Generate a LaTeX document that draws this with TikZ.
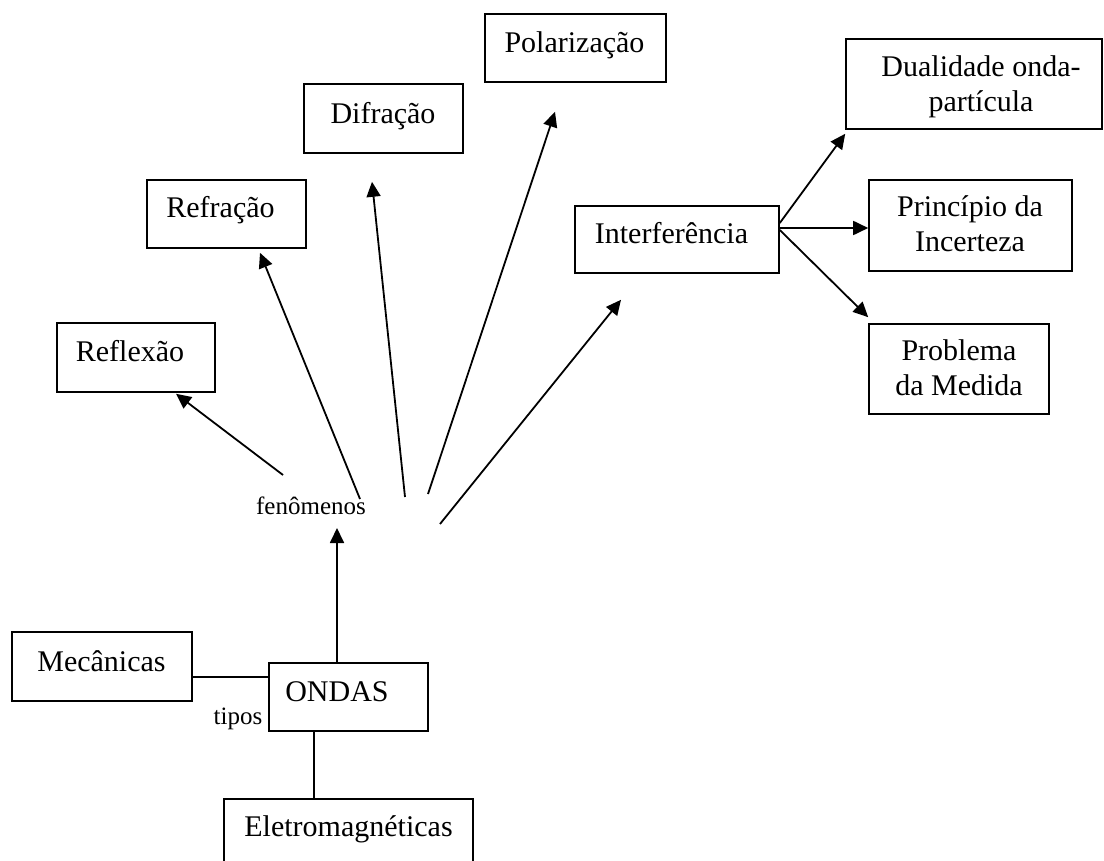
\documentclass[tikz,border=0pt]{standalone}
\usepackage{fontspec}
\setmainfont{Liberation Serif}
\usetikzlibrary{arrows.meta}
\begin{document}
\begin{tikzpicture}[x=1pt,y=-1pt,
  box/.style={draw, line width=1.6pt, inner sep=0pt, rectangle},
  txt/.style={inner sep=0pt, anchor=base, align=center,
    font=\fontsize{30}{35}\selectfont},
  lbl/.style={inner sep=0pt, anchor=base, font=\fontsize{25}{30}\selectfont},
  link/.style={line width=1.8pt},
  arr/.style={line width=1.8pt, -{Triangle[length=15pt,width=14pt]}}]
\path[use as bounding box] (0,0) rectangle (1104,861);

% concept boxes
\node[box, minimum width=158pt, minimum height=69pt] (refl)   at (136,357.5) {};
\node[box, minimum width=159pt, minimum height=68pt] (refr)   at (226.5,214) {};
\node[box, minimum width=159pt, minimum height=69pt] (dif)    at (383.5,118.5) {};
\node[box, minimum width=181pt, minimum height=68pt] (pol)    at (575.5,48) {};
\node[box, minimum width=204pt, minimum height=67pt] (interf) at (677,239.5) {};
\node[box, minimum width=256pt, minimum height=90pt] (dual)   at (974,84) {};
\node[box, minimum width=203pt, minimum height=91pt] (princ)  at (970.5,225.5) {};
\node[box, minimum width=180pt, minimum height=90pt] (prob)   at (959,369) {};
\node[box, minimum width=180pt, minimum height=69pt] (mec)    at (102,666.5) {};
\node[box, minimum width=159pt, minimum height=68pt] (ondas)  at (348.5,697) {};
\node[box, minimum width=249pt, minimum height=69pt] (eletro) at (348.5,833.5) {};

% box captions (anchored on the baseline of the last line)
\node[txt] (reflT)   at (130,362)   {Reflexão};
\node[txt] (refrT)   at (220.5,218) {Refração};
\node[txt] (difT)    at (383,124)   {Difração};
\node[txt] (polT)    at (574.5,53)  {Polarização};
\node[txt] (interfT) at (671.5,244) {Interferência};
\node[txt] (dualT)   at (981,112)   {Dualidade onda-\\partícula};
\node[txt] (princT)  at (970,252)   {Princípio da\\Incerteza};
\node[txt] (probT)   at (959,395)   {Problema\\da Medida};
\node[txt] (mecT)    at (101.5,671.5) {Mecânicas};
\node[txt] (ondasT)  at (337,701.5) {ONDAS};
\node[txt] (eletroT) at (348.5,836) {Eletromagnéticas};

% link labels
\node[lbl] (fen)   at (311,514) {fenômenos};
\node[lbl] (tipos) at (238,724) {tipos};

% free ends of the fan of phenomena
\coordinate (sRefl) at (283,475);
\coordinate (sRefr) at (360,499);
\coordinate (sDif)  at (405,497);
\coordinate (sPol)  at (428,494);
\coordinate (sInt)  at (440,524);
\coordinate (fenTip) at (337,528);

% types of waves
\draw[link] ([yshift=-10.5pt]mec.east) -- ([yshift=-10.5pt]mec.east -| ondas.west);
\draw[link] ([xshift=-34.5pt]ondas.south) -- ([xshift=-34.5pt]ondas.south |- eletro.north);
\draw[arr]  ([xshift=-11.5pt]ondas.north) -- (fenTip);

% phenomena
\draw[arr] (sRefl) -- ([xshift=40pt,yshift=-1pt]refl.south);
\draw[arr] (sRefr) -- ([xshift=33.5pt,yshift=-4pt]refr.south);
\draw[arr] (sDif)  -- ([xshift=-11.5pt,yshift=-28pt]dif.south);
\draw[arr] (sPol)  -- ([xshift=-20.5pt,yshift=-29pt]pol.south);
\draw[arr] (sInt)  -- ([xshift=-56pt,yshift=-26pt]interf.south);

% consequences of interference
\draw[arr] ([yshift=16.5pt]interf.east) -- ([yshift=-4pt]dual.south west);
\draw[arr] ([yshift=11.5pt]interf.east) -- ([yshift=11.5pt]interf.east -| princ.west);
\draw[arr] ([yshift=9.5pt]interf.east)  -- ([yshift=6pt]prob.north west);
\end{tikzpicture}
\end{document}
